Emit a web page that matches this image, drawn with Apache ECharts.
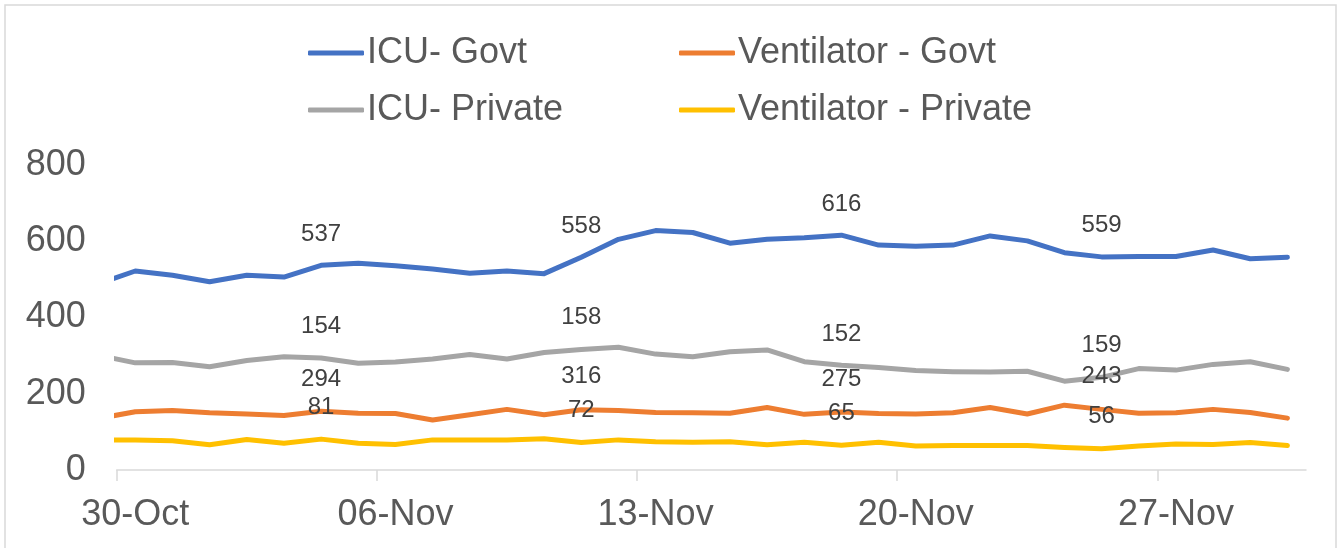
<!DOCTYPE html>
<html lang="en">
<head>
    <meta charset="UTF-8">
    <title>ICU / Ventilator occupancy</title>
    <script src="https://cdn.jsdelivr.net/npm/echarts@6/dist/echarts.min.js"></script>
</head>
<style>
    html, body {
        margin: 0;
        padding: 0;
        background-color: #FFFFFF;
    }
</style>
<body>
<div id="main" style="width: 1341px;height: 548px;"></div>

<script>
    // 29-Oct is only half visible at the left edge of the plot
    var dates = ['29-Oct', '30-Oct', '31-Oct', '01-Nov', '02-Nov', '03-Nov', '04-Nov', '05-Nov', '06-Nov',
        '07-Nov', '08-Nov', '09-Nov', '10-Nov', '11-Nov', '12-Nov', '13-Nov', '14-Nov', '15-Nov', '16-Nov',
        '17-Nov', '18-Nov', '19-Nov', '20-Nov', '21-Nov', '22-Nov', '23-Nov', '24-Nov', '25-Nov', '26-Nov',
        '27-Nov', '28-Nov', '29-Nov', '30-Nov'];
    var tickLabels = ['30-Oct', '06-Nov', '13-Nov', '20-Nov', '27-Nov'];

    var icuGovt = [488, 522, 511, 494, 511, 506, 537, 542, 536, 527, 516, 522, 515, 558, 605, 628, 623,
        595, 605, 609, 616, 590, 587, 590, 614, 601, 570, 559, 560, 560, 577, 554, 558];
    var ventGovt = [135, 153, 156, 150, 147, 143, 154, 149, 148, 131, 145, 159, 145, 158, 156, 151, 150,
        149, 164, 146, 152, 148, 147, 150, 164, 147, 170, 159, 149, 150, 159, 151, 136];
    var icuPrivate = [301, 281, 282, 271, 287, 297, 294, 280, 283, 291, 303, 291, 308, 316, 322, 304, 297,
        310, 315, 284, 275, 269, 261, 258, 257, 259, 233, 243, 266, 262, 277, 284, 264];
    var ventPrivate = [79, 79, 77, 66, 80, 70, 81, 70, 67, 79, 79, 79, 82, 72, 79, 74, 73,
        74, 66, 73, 65, 73, 63, 64, 64, 64, 59, 56, 63, 68, 67, 72, 64];

    // points that carry a value label (index into dates)
    var labelIdx = [6, 13, 20, 27];

    var font = 'Liberation Sans, Arial, sans-serif';

    // build [x, y] pairs; x is the day centre, 30-Oct sits at 0.5
    function makeData(values, offsets) {
        return values.map(function (v, i) {
            var item = {value: [i - 0.5, v]};
            var k = labelIdx.indexOf(i);
            if (k >= 0) {
                item.label = {show: true, offset: [0, offsets[k]]};
            }
            return item;
        });
    }

    function lineSeries(name, color, values, offsets) {
        return {
            name: name,
            type: 'line',
            color: color,
            symbol: 'circle',
            symbolSize: 0,
            showSymbol: true,
            clip: true,
            lineStyle: {width: 5, color: color, cap: 'round', join: 'round'},
            label: {
                show: false,
                position: 'inside',
                fontFamily: font,
                fontSize: 24,
                color: '#404040'
            },
            emphasis: {disabled: true},
            data: makeData(values, offsets)
        };
    }

    var legendBase = {
        orient: 'vertical',
        top: 28,
        icon: 'roundRect',
        itemWidth: 56,
        itemHeight: 5,
        itemGap: 17,
        selectedMode: false,
        textStyle: {fontFamily: font, fontSize: 36, lineHeight: 40, color: '#595959', padding: [0, 0, 0, -2]}
    };

    var myChart = echarts.init(document.getElementById('main'));
    var option = {
        backgroundColor: '#FFFFFF',
        animation: false,
        graphic: [{
            type: 'rect',
            shape: {x: 5, y: 5, width: 1331, height: 560},
            style: {fill: 'none', stroke: '#D9D9D9', lineWidth: 1.5},
            silent: true
        }],
        legend: [
            Object.assign({}, legendBase, {left: 303, data: ['ICU- Govt', 'ICU- Private']}),
            Object.assign({}, legendBase, {left: 674, data: ['Ventilator - Govt', 'Ventilator - Private']})
        ],
        grid: {left: 116.7, right: 35, top: 165, bottom: 78},
        xAxis: {
            type: 'value',
            min: 0,
            max: 32,
            interval: 7,
            splitLine: {show: false},
            axisLine: {lineStyle: {color: '#D9D9D9', width: 1.5}},
            axisTick: {
                customValues: [0, 7, 14, 21, 28],
                length: 11,
                lineStyle: {color: '#D9D9D9', width: 1.5}
            },
            axisLabel: {
                customValues: [0.5, 7.5, 14.5, 21.5, 28.5],
                formatter: function (v) {
                    return tickLabels[Math.round((v - 0.5) / 7)];
                },
                margin: 27,
                fontFamily: font,
                fontSize: 36,
                color: '#595959'
            }
        },
        yAxis: {
            type: 'value',
            min: 0,
            max: 800,
            interval: 200,
            splitLine: {show: false},
            axisLine: {show: false},
            axisTick: {show: false},
            axisLabel: {margin: 31, fontFamily: font, fontSize: 36, color: '#595959'}
        },
        series: [
            lineSeries('ICU- Govt', '#4472C4', icuGovt, [-31, -31, -31, -32]),
            lineSeries('Ventilator - Govt', '#ED7D31', ventGovt, [-85, -92, -78, -64]),
            lineSeries('ICU- Private', '#A5A5A5', icuPrivate, [21, 27, 14, -1]),
            lineSeries('Ventilator - Private', '#FFC000', ventPrivate, [-32, -32, -32, -32])
        ]
    };
    myChart.setOption(option);
</script>
</body>
</html>
